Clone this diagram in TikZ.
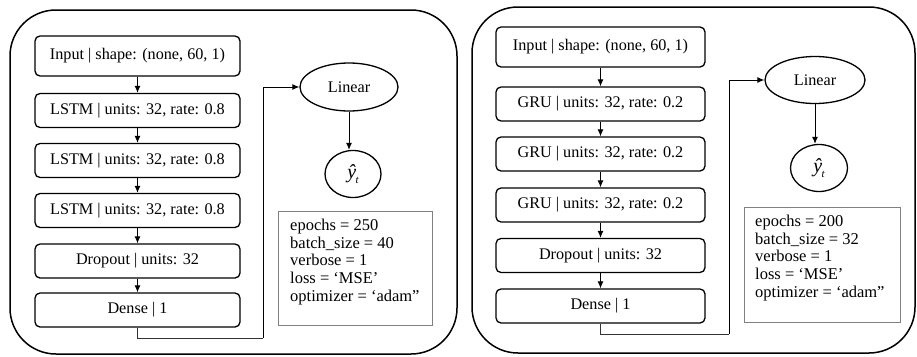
\documentclass[tikz,border=0pt]{standalone}
\usepackage{fontspec}
\setmainfont{Liberation Serif}
\usetikzlibrary{arrows.meta,shapes.geometric}
\newcommand{\yhatt}{{\itshape ŷ\kern-0.5pt\raisebox{-0.25em}{\fontsize{11}{12}\selectfont t}}}
\begin{document}
\begin{tikzpicture}[x=1pt,y=-1pt,
  panel/.style={draw,line width=1.5pt,rounded corners=46pt},
  layer/.style={draw,line width=1.3pt,rounded corners=5pt,minimum height=34pt,
    inner sep=0pt,font=\fontsize{16.2}{18}\selectfont},
  oval/.style={draw,ellipse,line width=1.3pt,inner sep=0pt,font=\fontsize{16.2}{18}\selectfont},
  params/.style={draw=black!50,line width=0.9pt,inner sep=0pt},
  paramtext/.style={anchor=north west,inner sep=0pt,align=left,
    font=\fontsize{16.5}{17.6}\selectfont},
  flow/.style={line width=1pt,-{Latex[length=7pt,width=6pt]}},
  link/.style={line width=1pt,black!80}
]
\useasboundingbox (0,0) rectangle (917,356);

% ---------------- LSTM model ----------------
\draw[panel] (10,10) rectangle (457,354);
\node[layer,minimum width=205pt,minimum height=40pt] (inA) at (137.5,56) {Input | shape: (none, 60, 1)};
\node[layer,minimum width=205pt] (lstmA) at (137.5,110.5) {LSTM | units: 32, rate: 0.8};
\node[layer,minimum width=205pt] (lstmB) at (137.5,160.5) {LSTM | units: 32, rate: 0.8};
\node[layer,minimum width=205pt] (lstmC) at (137.5,210.5) {LSTM | units: 32, rate: 0.8};
\node[layer,minimum width=205pt] (dropA) at (137.5,261) {Dropout | units: 32};
\node[layer,minimum width=205pt] (denseA) at (137.5,310) {Dense | 1};
\node[oval,minimum width=98pt,minimum height=48pt] (linA) at (349,87) {Linear};
\node[oval,minimum width=56pt,minimum height=47pt,font=\fontsize{20}{22}\selectfont] (yA) at (353,174) {\yhatt};
\node[params,minimum width=154pt,minimum height=114pt] (parA) at (355,268) {};
\node[paramtext] (parAtxt) at (290,219) {epochs = 250\\batch\_size = 40\\verbose = 1\\loss = ‘MSE’\\optimizer = ‘adam”};
\coordinate (turnA) at (263,338);

\draw[flow] (inA) -- (lstmA);
\draw[flow] (lstmA) -- (lstmB);
\draw[flow] (lstmB) -- (lstmC);
\draw[flow] (lstmC) -- (dropA);
\draw[flow] (dropA) -- (denseA);
\draw[link] (denseA.south) |- (turnA);
\draw[flow] (turnA) |- (linA.west);
\draw[flow] (linA.south) -- (linA.south |- yA.north);

% ---------------- GRU model ----------------
\draw[panel] (472,7) rectangle (915,353);
\node[layer,minimum width=209pt,minimum height=40pt] (inB) at (600.5,47) {Input | shape: (none, 60, 1)};
\node[layer,minimum width=209pt] (gruA) at (600.5,104) {GRU | units: 32, rate: 0.2};
\node[layer,minimum width=209pt] (gruB) at (600.5,154) {GRU | units: 32, rate: 0.2};
\node[layer,minimum width=209pt] (gruC) at (600.5,205) {GRU | units: 32, rate: 0.2};
\node[layer,minimum width=209pt] (dropB) at (600.5,255.5) {Dropout | units: 32};
\node[layer,minimum width=209pt] (denseB) at (600.5,306) {Dense | 1};
\node[oval,minimum width=100pt,minimum height=47pt] (linB) at (815,80) {Linear};
\node[oval,minimum width=57pt,minimum height=47pt,font=\fontsize{20}{22}\selectfont] (yB) at (819,168) {\yhatt};
\node[params,minimum width=156pt,minimum height=115pt] (parB) at (822,264.5) {};
\node[paramtext] (parBtxt) at (755,215) {epochs = 200\\batch\_size = 32\\verbose = 1\\loss = ‘MSE’\\optimizer = ‘adam”};
\coordinate (turnB) at (729,334);

\draw[flow] (inB) -- (gruA);
\draw[flow] (gruA) -- (gruB);
\draw[flow] (gruB) -- (gruC);
\draw[flow] (gruC) -- (dropB);
\draw[flow] (dropB) -- (denseB);
\draw[link] (denseB.south) |- (turnB);
\draw[flow] (turnB) |- (linB.west);
\draw[flow] (linB.south) -- (linB.south |- yB.north);
\end{tikzpicture}
\end{document}
